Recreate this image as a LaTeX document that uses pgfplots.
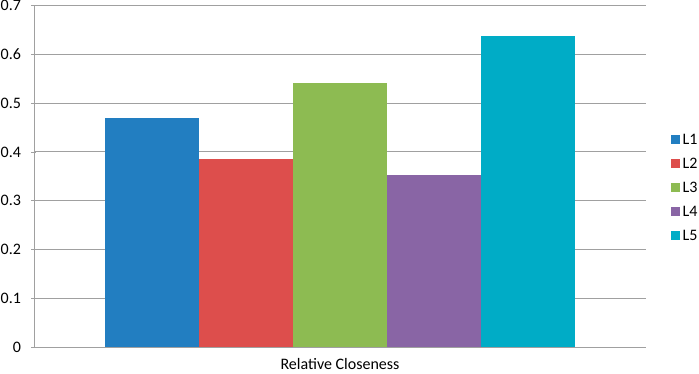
\documentclass[border=0pt]{standalone}
\usepackage{pgfplots}
\pgfplotsset{compat=1.18}
\usepackage{fontspec}
\setmainfont{Carlito}
\definecolor{cA}{RGB}{34,126,193}
\definecolor{cB}{RGB}{221,78,76}
\definecolor{cC}{RGB}{141,187,82}
\definecolor{cD}{RGB}{137,101,165}
\definecolor{cE}{RGB}{0,172,198}
\definecolor{gridc}{RGB}{160,160,160}
\begin{document}
\begin{tikzpicture}
\begin{axis}[
  scale only axis,
  width=612bp, height=341.3bp,
  font=\fontsize{16bp}{19bp}\selectfont,
  ybar=0pt, bar width=94bp,
  xmin=-0.5, xmax=0.5,
  ymin=0, ymax=0.7,
  ytick={0,0.1,...,0.7},
  yticklabel style={xshift=-7bp,/pgf/number format/fixed,/pgf/number format/precision=1,/pgf/number format/assume math mode=true},
  scaled y ticks=false,
  xtick={0}, xticklabels={Relative Closeness},
  extra x ticks={-0.5,0.5}, extra x tick labels={},
  extra x tick style={major tick length=5bp, tick style={gridc, line width=0.8bp}},
  x tick style={draw=none},
  y tick style={gridc, line width=0.8bp},
  major tick length=5bp,
  tick align=outside,
  axis x line=bottom, axis y line=left,
  axis line style={gridc, line width=0.8bp, -},
  ymajorgrids,
  grid style={gridc, line width=1bp},
  xticklabel style={yshift=-5bp},
  legend style={at={(1,0.468)}, anchor=west, xshift=25bp, draw=none, fill=none,
    inner xsep=0pt, row sep=10bp, font=\fontsize{16bp}{19bp}\selectfont,
    nodes={inner ysep=1.5bp, inner xsep=3bp, text height=11bp, text depth=0bp}},
  legend cell align=left,
  legend image code/.code={\fill[#1] (0bp,-4.25bp) rectangle (8.5bp,4.25bp);},
]
\addplot[fill=cA, draw=none] coordinates {(0,0.470)};
\addplot[fill=cB, draw=none] coordinates {(0,0.386)};
\addplot[fill=cC, draw=none] coordinates {(0,0.541)};
\addplot[fill=cD, draw=none] coordinates {(0,0.352)};
\addplot[fill=cE, draw=none] coordinates {(0,0.637)};
\legend{L1,L2,L3,L4,L5}
\coordinate (sw) at (rel axis cs:0,0);
\coordinate (ne) at (rel axis cs:1,1);
\end{axis}
\pgfresetboundingbox
\path[use as bounding box] ([xshift=-34bp,yshift=-26bp]sw) rectangle ([xshift=53bp,yshift=5.7bp]ne);
\end{tikzpicture}
\end{document}
